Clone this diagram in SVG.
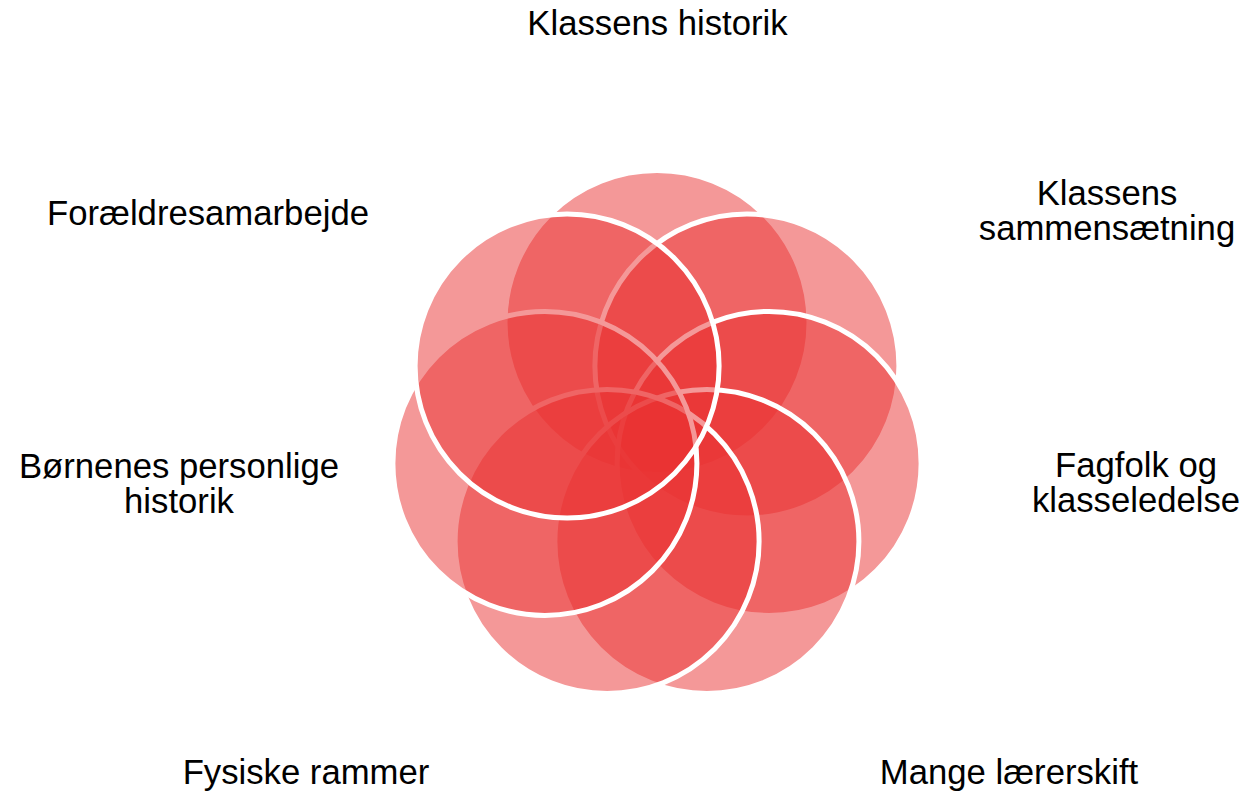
<svg xmlns="http://www.w3.org/2000/svg" width="1245" height="791" viewBox="0 0 1245 791">
  <style>
    .c { fill: #E93232; fill-opacity: 0.5; stroke: #FFFFFF; stroke-width: 5; }
    .t { font-family: "Liberation Sans", Arial, sans-serif; font-size: 34.7px; fill: #000000; text-anchor: middle; }
  </style>
  <rect width="1245" height="791" fill="#FFFFFF"/>
  <g id="connectors"></g>
  <g id="node-klassens-historik">
    <circle class="c" cx="657" cy="322.5" r="152"/>
    <text class="t" x="657.5" y="34.5">Klassens historik</text>
  </g>
  <g id="node-klassens-sammensaetning">
    <circle class="c" cx="746.9" cy="366" r="152"/>
    <text class="t" x="1107" y="205"><tspan x="1107">Klassens</tspan><tspan x="1107" dy="35">sammensætning</tspan></text>
  </g>
  <g id="node-fagfolk">
    <circle class="c" cx="769.1" cy="463.4" r="152"/>
    <text class="t" x="1136" y="477"><tspan x="1136">Fagfolk og</tspan><tspan x="1136" dy="34.5">klasseledelse</tspan></text>
  </g>
  <g id="node-mange-laererskift">
    <circle class="c" cx="706.9" cy="541.5" r="152"/>
    <text class="t" x="1009" y="784">Mange lærerskift</text>
  </g>
  <g id="node-fysiske-rammer">
    <circle class="c" cx="607.1" cy="541.5" r="152"/>
    <text class="t" x="306" y="784">Fysiske rammer</text>
  </g>
  <g id="node-boernenes-historik">
    <circle class="c" cx="544.9" cy="463.4" r="152"/>
    <text class="t" x="179" y="478"><tspan x="179">Børnenes personlige</tspan><tspan x="179" dy="34.5">historik</tspan></text>
  </g>
  <g id="node-foraeldresamarbejde">
    <circle class="c" cx="567.1" cy="366" r="152"/>
    <text class="t" x="208" y="224.5">Forældresamarbejde</text>
  </g>
</svg>
